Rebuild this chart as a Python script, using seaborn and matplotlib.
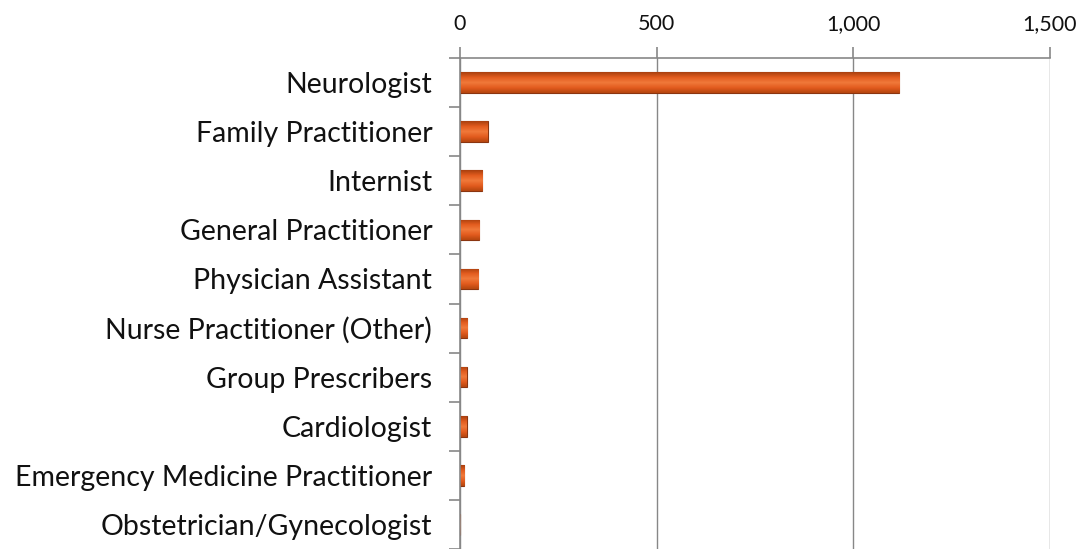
import matplotlib
matplotlib.use("Agg")
import matplotlib.pyplot as plt
import seaborn as sns
import numpy as np
import pandas as pd
from matplotlib.ticker import FuncFormatter, FixedLocator
from matplotlib.colors import LinearSegmentedColormap

categories = ["Neurologist", "Family Practitioner", "Internist", "General Practitioner",
              "Physician Assistant", "Nurse Practitioner (Other)", "Group Prescribers",
              "Cardiologist", "Emergency Medicine Practitioner", "Obstetrician/Gynecologist"]
values = [1117, 71, 56, 49, 47, 18, 17, 17, 11, 1]
x_ticks = [0, 500, 1000, 1500]

sns.set_theme(style="white")
plt.rcParams['font.family'] = ['Lato', 'DejaVu Sans']

df = pd.DataFrame({"category": categories, "value": values})

fig = plt.figure(figsize=(10.83, 5.49), dpi=100)
ax = fig.add_axes([460/1083, 0, (1050-460)/1083, 1-58/549])

sns.barplot(data=df, y="category", x="value", orient="h", ax=ax, width=0.42,
            color="#E35B1E", edgecolor="#8A3510", linewidth=0.8, saturation=1)

# gradient fill clipped to each bar
cmap = LinearSegmentedColormap.from_list("bar", ["#A8400F", "#E35B1E", "#F07A3A", "#E35B1E", "#B5460F"])
grad = np.linspace(0, 1, 64).reshape(-1, 1)
for p in ax.patches:
    x0, y0 = p.get_x(), p.get_y()
    w, h = p.get_width(), p.get_height()
    if w <= 0:
        continue
    im = ax.imshow(grad, extent=[x0, x0 + w, y0 + h, y0], aspect="auto", cmap=cmap,
                   origin="upper", zorder=p.get_zorder() + 0.1)
    im.set_clip_path(p)

ax.set_xlim(0, 1500)
ax.set_ylim(len(categories) - 0.5, -0.5)
ax.xaxis.set_major_locator(FixedLocator(x_ticks))
ax.xaxis.set_major_formatter(FuncFormatter(lambda v, p: f"{int(v):,}"))
ax.xaxis.tick_top()
ax.xaxis.set_label_position("top")
ax.set_xlabel("")
ax.set_ylabel("")

ax.grid(axis="x", color="#878787", linewidth=1.0)
ax.set_axisbelow(True)

for s in ["right", "bottom"]:
    ax.spines[s].set_visible(False)
for s in ["top", "left"]:
    ax.spines[s].set_color("#878787")
    ax.spines[s].set_linewidth(1.2)

# category ticks between categories (Excel style)
ax.set_yticks(range(len(categories)))
ax.set_yticklabels(categories)
ax.yaxis.set_minor_locator(FixedLocator(np.arange(-0.5, len(categories), 1.0)))
ax.tick_params(axis="y", which="major", length=0, pad=20, labelsize=20.5, labelcolor="#111111")
ax.tick_params(axis="y", which="minor", length=8, width=1.2, color="#878787", left=True)
ax.tick_params(axis="x", which="major", length=8, width=1.2, color="#878787", top=True,
               bottom=False, pad=9, labelsize=15.5, labelcolor="#111111")

fig.savefig("out.png", dpi=100, facecolor="white")
